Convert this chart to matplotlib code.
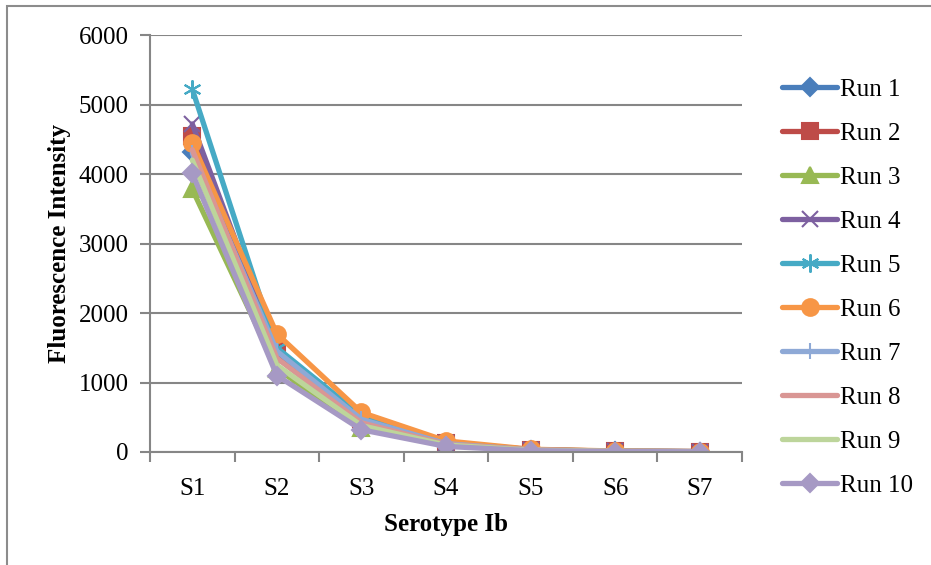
import matplotlib
matplotlib.use("Agg")
import matplotlib.pyplot as plt
from matplotlib.patches import Rectangle

categories = ["S1", "S2", "S3", "S4", "S5", "S6", "S7"]
run_labels = ["Run 1", "Run 2", "Run 3", "Run 4", "Run 5",
              "Run 6", "Run 7", "Run 8", "Run 9", "Run 10"]

run1 = [4320, 1400, 450, 120, 30, 10, 5]
run2 = [4550, 1450, 480, 130, 35, 12, 6]
run3 = [3780, 1200, 350, 100, 25, 8, 4]
run4 = [4720, 1450, 500, 130, 30, 10, 5]
run5 = [5220, 1500, 520, 140, 35, 12, 6]
run6 = [4450, 1700, 570, 160, 40, 15, 7]
run7 = [4300, 1450, 470, 120, 30, 10, 5]
run8 = [4350, 1350, 420, 110, 30, 10, 5]
run9 = [4200, 1250, 380, 100, 25, 8, 4]
run10 = [4010, 1100, 320, 80, 20, 6, 3]
runs = [run1, run2, run3, run4, run5, run6, run7, run8, run9, run10]

colors = ["#4A7EBB", "#BE4B48", "#98B954", "#7D60A0", "#46AAC5",
          "#F79646", "#8EA9D6", "#D99694", "#BDD59B", "#A699C4"]
markers = ["D", "s", "^", "x", (6, 2, 0), "o", "|", "None", "None", "D"]
msizes = [9, 11, 12, 12, 13, 12, 12, 0, 0, 9]

plt.rcParams["font.family"] = ["Liberation Serif", "DejaVu Serif"]

fig = plt.figure(figsize=(9.31, 5.65), dpi=100)
fig.patches.append(Rectangle((7 / 931, -0.1), 1.2, 1 - 6 / 565 + 0.1,
                             transform=fig.transFigure, fill=False,
                             edgecolor="#8C8C8C", linewidth=1.5))

ax = fig.add_axes([150 / 931, (565 - 452) / 565, 592 / 931, 417 / 565])
x = list(range(len(categories)))
for vals, lab, c, m, ms in zip(runs, run_labels, colors, markers, msizes):
    ax.plot(x, vals, color=c, linewidth=3.8, marker=m, markersize=ms,
            markeredgecolor=c, markerfacecolor=c, markeredgewidth=1.5,
            label=lab, solid_capstyle="round")

ax.set_xlim(-0.5, len(categories) - 0.5)
ax.set_ylim(0, 6000)
ax.set_yticks(range(0, 6001, 1000))
ax.set_xticks(x)
ax.set_xticklabels(categories)
ax.set_xticks([i - 0.5 for i in range(len(categories) + 1)], minor=True)
ax.tick_params(axis="x", which="major", length=0, pad=19, labelsize=18)
ax.tick_params(axis="x", which="minor", length=7, width=1.5, color="#868686")
ax.tick_params(axis="y", length=7, width=1.5, color="#868686", pad=8.5,
               labelsize=18)
ax.grid(axis="y", color="#868686", linewidth=1.5)
ax.set_axisbelow(True)
for s in ["top", "right"]:
    ax.spines[s].set_visible(False)
for s in ["left", "bottom"]:
    ax.spines[s].set_color("#868686")
    ax.spines[s].set_linewidth(1.5)

ax.set_xlabel("Serotype Ib", fontsize=18, fontweight="bold", labelpad=9)
ax.set_ylabel("Fluorescence Intensity", fontsize=18, fontweight="bold",
              labelpad=5.5)

fig.legend(loc="upper left", bbox_to_anchor=(782 / 931, 1 - 78 / 565),
           frameon=False, fontsize=18, handlelength=2.2, handletextpad=0.1,
           labelspacing=0.86, borderpad=0, borderaxespad=0)

fig.savefig("out.png", dpi=100)
